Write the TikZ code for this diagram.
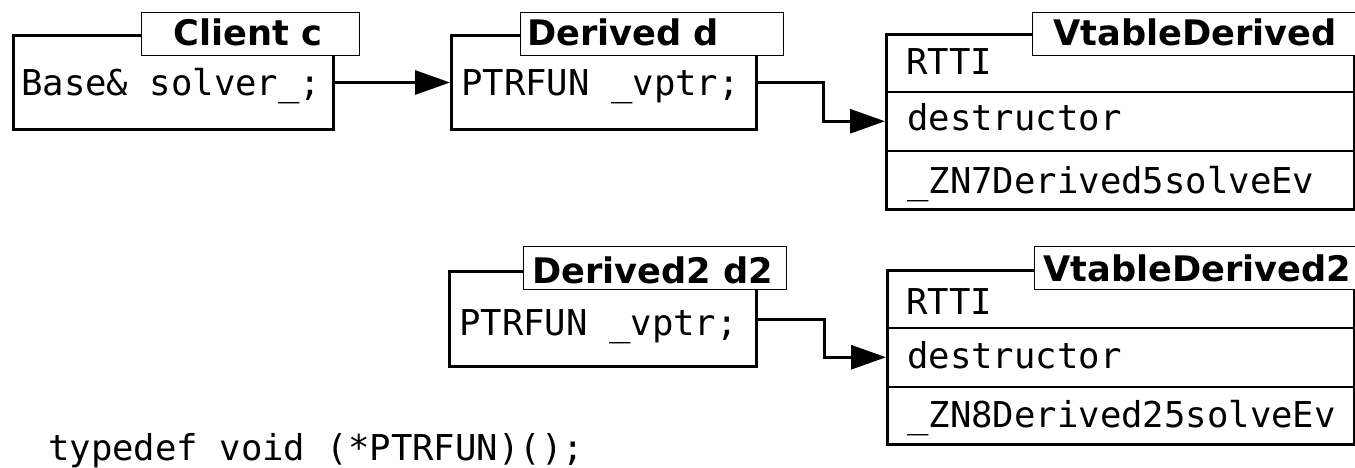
\documentclass[tikz,border=0pt]{standalone}
\usepackage{fontspec}
\setmainfont{DejaVu Sans}
\newfontfamily\codefont{DejaVu Sans Mono}
\usetikzlibrary{arrows.meta}
\begin{document}
\begin{tikzpicture}[x=1pt,y=-1pt,
  objbox/.style={draw, line width=3pt, inner sep=0pt, anchor=north west},
  titlebox/.style={draw, line width=1.3pt, fill=white, inner sep=0pt, anchor=north west},
  rowbox/.style={draw, line width=1.5pt, inner sep=0pt, anchor=north west},
  codetxt/.style={inner sep=0pt, anchor=base west, font=\codefont\fontsize{35.6}{36}\selectfont},
  titletxt/.style={inner sep=0pt, anchor=base west, font=\bfseries\fontsize{35.2}{36}\selectfont},
  ptr/.style={line width=3pt, -{Triangle[length=35pt,width=24pt]}}
]
\useasboundingbox (0,0) rectangle (1355,467);
\clip (0,0) rectangle (1355,467);

% object boxes
\node[objbox, minimum width=320pt, minimum height=94pt] (client) at (12,34) {};
\node[objbox, minimum width=305pt, minimum height=94pt] (derived) at (450,34) {};
\node[objbox, minimum width=307pt, minimum height=95pt] (derived2) at (448,270) {};

% vtable 1
\node[rowbox, minimum width=468pt, minimum height=58pt] (vaR1) at (885,33) {};
\node[rowbox, minimum width=468pt, minimum height=59pt] (vaR2) at (885,91) {};
\node[rowbox, minimum width=468pt, minimum height=58pt] (vaR3) at (885,150) {};
\node[objbox, minimum width=468pt, minimum height=175pt] (vtA) at (885,33) {};

% vtable 2
\node[rowbox, minimum width=467pt, minimum height=58pt] (vbR1) at (886,269) {};
\node[rowbox, minimum width=467pt, minimum height=59pt] (vbR2) at (886,327) {};
\node[rowbox, minimum width=467pt, minimum height=57pt] (vbR3) at (886,386) {};
\node[objbox, minimum width=467pt, minimum height=174pt] (vtB) at (886,269) {};

% connectors
\draw[ptr] (client.east) -- (derived.west);
\draw[ptr] (derived.east) -- ++(65,0) |- (vaR2.west);
\draw[ptr] (derived2.east) -- ++(66,0) |- (vbR2.west);

% title boxes
\node[titlebox, minimum width=218pt, minimum height=43pt] (tC) at (141,12) {};
\node[titlebox, minimum width=263pt, minimum height=43pt] (tD) at (520,12) {};
\node[titlebox, minimum width=263pt, minimum height=43pt] (tD2) at (523,246) {};
\node[titlebox, minimum width=340pt, minimum height=43pt] (tVA) at (1032,12) {};
\node[titlebox, minimum width=340pt, minimum height=43pt] (tVB) at (1034,246) {};

% titles
\node[titletxt] (lC) at (173,45) {Client c};
\node[titletxt] (lD) at (527,45) {Derived d};
\node[titletxt] (lD2) at (532,283) {Derived2 d2};
\node[titletxt] (lVA) at (1053,45) {VtableDerived};
\node[titletxt] (lVB) at (1043,281) {VtableDerived2};

% code texts
\node[codetxt] (cC) at (21,95) {Base\& solver\_;};
\node[codetxt] (cD) at (461,95) {PTRFUN \_vptr;};
\node[codetxt] (cD2) at (459,335) {PTRFUN \_vptr;};
\node[codetxt] (a1) at (906,74) {RTTI};
\node[codetxt] (a2) at (907,130) {destructor};
\node[codetxt] (a3) at (907,193) {\_ZN7Derived5solveEv};
\node[codetxt] (b1) at (906,314) {RTTI};
\node[codetxt] (b2) at (907,368) {destructor};
\node[codetxt] (b3) at (907,427) {\_ZN8Derived25solveEv};
\node[codetxt] (td) at (48,460) {typedef void (*PTRFUN)();};
\end{tikzpicture}
\end{document}
